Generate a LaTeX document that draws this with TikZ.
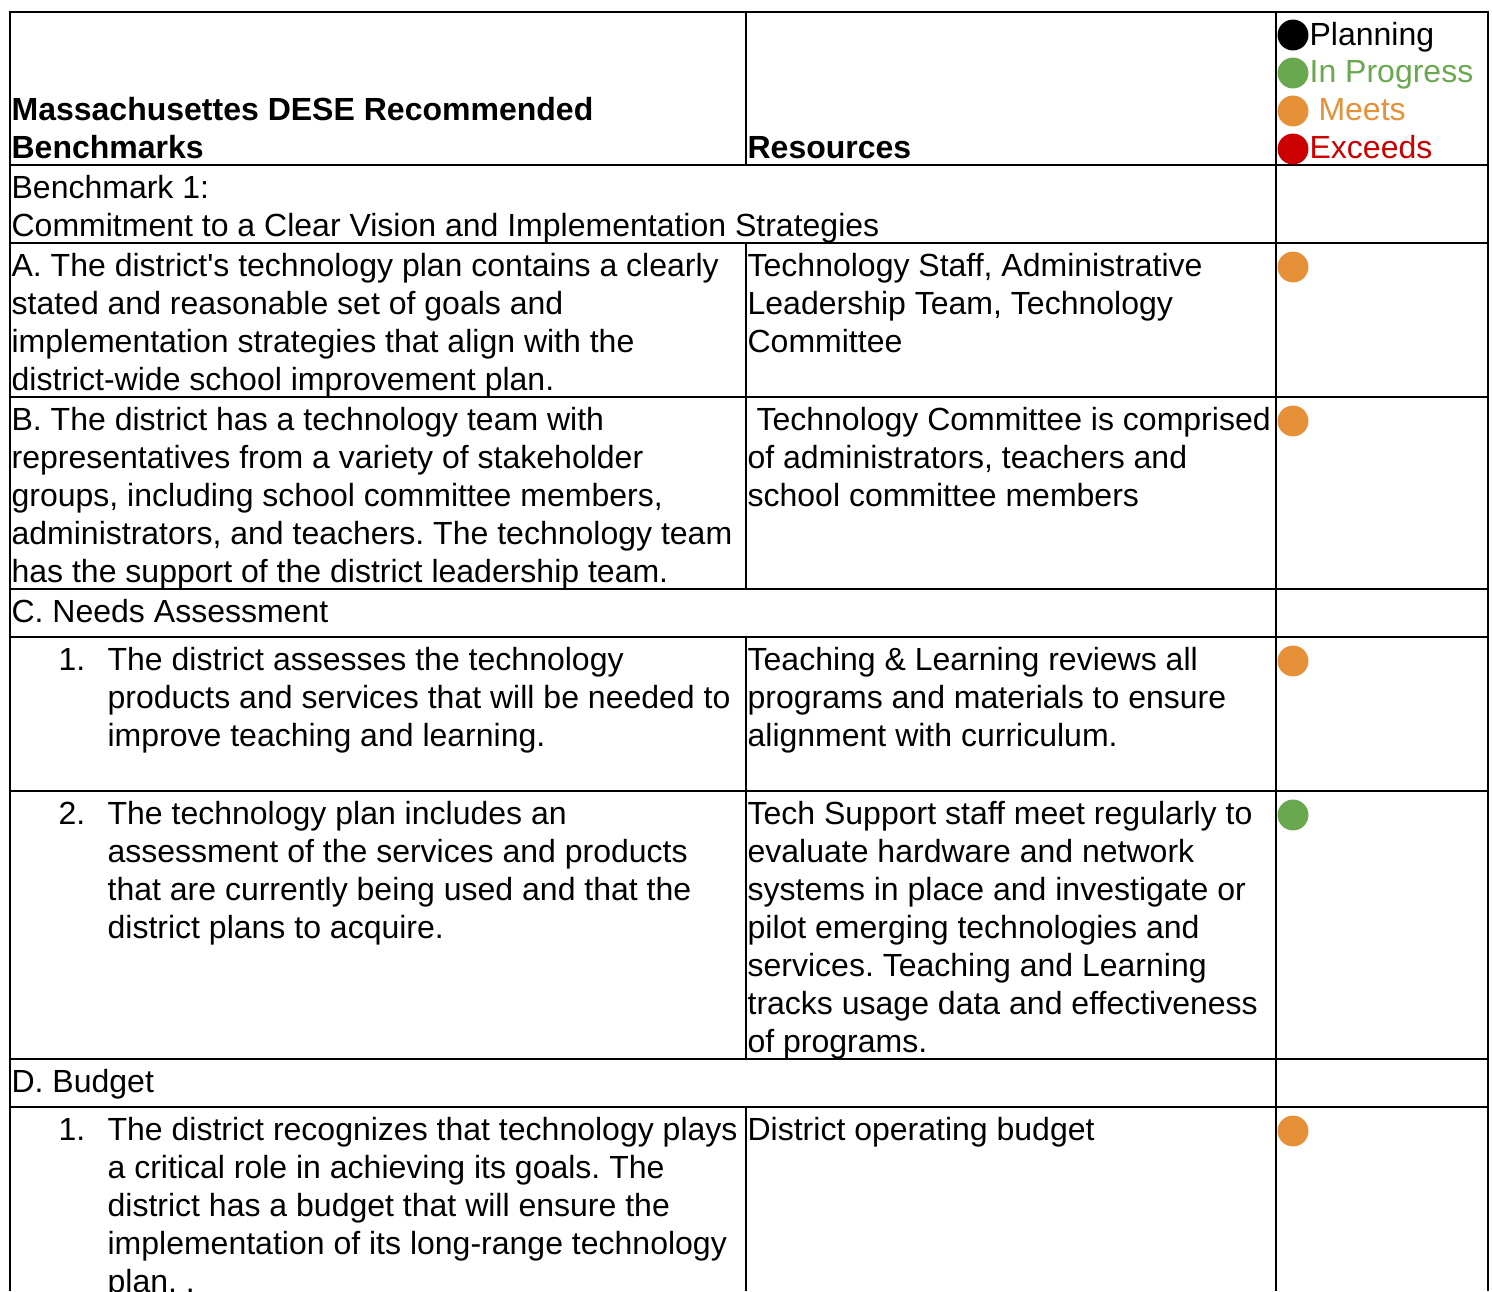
\documentclass[tikz,border=0pt]{standalone}
\usepackage{xcolor}
\usepackage{fontspec}
\setmainfont{Liberation Sans}
\usepackage{tikz}
\usetikzlibrary{positioning}
\definecolor{progressgreen}{HTML}{6AA84F}
\definecolor{meetsorange}{HTML}{E69138}
\definecolor{exceedsred}{HTML}{CC0000}
\newcommand{\cellrows}[1]{\begin{tabular}[t]{@{}l@{}}#1\end{tabular}}
\frenchspacing

\begin{document}
\begin{tikzpicture}[x=0.3333pt, y=-0.3333pt,
	cell/.style={anchor=base west, inner sep=0pt, font=\fontsize{10.67pt}{12.67pt}\selectfont},
	head/.style={cell, font=\fontsize{10.67pt}{12.67pt}\selectfont\bfseries},
	dot/.style={circle, inner sep=0pt, minimum size=10.3pt},
	rule/.style={line width=0.67pt}]
	\useasboundingbox (0,0) rectangle (1492,1291);
	\pgfmathsetmacro{\colA}{10}
	\pgfmathsetmacro{\colB}{746}
	\pgfmathsetmacro{\colC}{1276}
	\pgfmathsetmacro{\colD}{1488}
	\pgfmathsetmacro{\dotx}{1293}
	
	\foreach \rowy in {12,165,243,397,589,637,791,1059,1107}
		\draw[rule] (\colA,\rowy) -- (\colD,\rowy);
	\draw[rule] (\colA,11) -- (\colA,1291);
	\draw[rule] (\colC,11) -- (\colC,1291);
	\draw[rule] (\colD,11) -- (\colD,1291);
	\draw[rule] (\colB,12) -- (\colB,165);
	\draw[rule] (\colB,243) -- (\colB,589);
	\draw[rule] (\colB,637) -- (\colB,1059);
	\draw[rule] (\colB,1107) -- (\colB,1291);
	
	\node[head] (hBench) at (11,120) {\cellrows{Massachusettes DESE Recommended\\Benchmarks}};
	\node[head] (hRes) at (747,158) {Resources};
	
	\node[dot, fill=black] (kPlan) at (\dotx,35) {};
	\node[dot, fill=progressgreen] (kProg) at (\dotx,73) {};
	\node[dot, fill=meetsorange] (kMeet) at (\dotx,111) {};
	\node[dot, fill=exceedsred] (kExc) at (\dotx,149) {};
	\node[cell] (lPlan) at (1309,45) {Planning};
	\node[cell, text=progressgreen] (lProg) at (1309,82) {In Progress};
	\node[cell, text=meetsorange] (lMeet) at (1309,120) {\ Meets};
	\node[cell, text=exceedsred] (lExc) at (1309,158) {Exceeds};
	
	\node[cell] (bOne) at (11,198) {\cellrows{Benchmark 1:\\Commitment to a Clear Vision and Implementation Strategies}};
	
	\node[cell] (aText) at (11,276) {\cellrows{A. The district\textquotesingle s technology plan contains a clearly\\stated and reasonable set of goals and\\implementation strategies that align with the\\district-wide school improvement plan.}};
	\node[cell] (aRes) at (747,276) {\cellrows{Technology Staff, Administrative\\Leadership Team, Technology\\Committee}};
	\node[dot, fill=meetsorange] (aDot) at (\dotx,267) {};
	
	\node[cell] (bText) at (11,430) {\cellrows{B. The district has a technology team with\\representatives from a variety of stakeholder\\groups, including school committee members,\\administrators, and teachers. The technology team\\has the support of the district leadership team.}};
	\node[cell] (bRes) at (747,430) {\cellrows{\ Technology Committee is comprised\\of administrators, teachers and\\school committee members}};
	\node[dot, fill=meetsorange] (bDot) at (\dotx,421) {};
	
	\node[cell] (cText) at (11,622) {C. Needs Assessment};
	
	\node[cell] (cOneNum) at (58,670) {1.};
	\node[cell] (cOneText) at (107,670) {\cellrows{The district assesses the technology\\products and services that will be needed to\\improve teaching and learning.}};
	\node[cell] (cOneRes) at (747,670) {\cellrows{Teaching \& Learning reviews all\\programs and materials to ensure\\alignment with curriculum.}};
	\node[dot, fill=meetsorange] (cOneDot) at (\dotx,661) {};
	
	\node[cell] (cTwoNum) at (58,824) {2.};
	\node[cell] (cTwoText) at (107,824) {\cellrows{The technology plan includes an\\assessment of the services and products\\that are currently being used and that the\\district plans to acquire.}};
	\node[cell] (cTwoRes) at (747,824) {\cellrows{Tech Support staff meet regularly to\\evaluate hardware and network\\systems in place and investigate or\\pilot emerging technologies and\\services. Teaching and Learning\\tracks usage data and effectiveness\\of programs.}};
	\node[dot, fill=progressgreen] (cTwoDot) at (\dotx,815) {};
	
	\node[cell] (dText) at (11,1092) {D. Budget};
	
	\node[cell] (dOneNum) at (58,1140) {1.};
	\node[cell] (dOneText) at (107,1140) {\cellrows{The district recognizes that technology plays\\a critical role in achieving its goals. The\\district has a budget that will ensure the\\implementation of its long-range technology\\plan. .}};
	\node[cell] (dOneRes) at (747,1140) {District operating budget};
	\node[dot, fill=meetsorange] (dOneDot) at (\dotx,1131) {};
\end{tikzpicture}
\end{document}
